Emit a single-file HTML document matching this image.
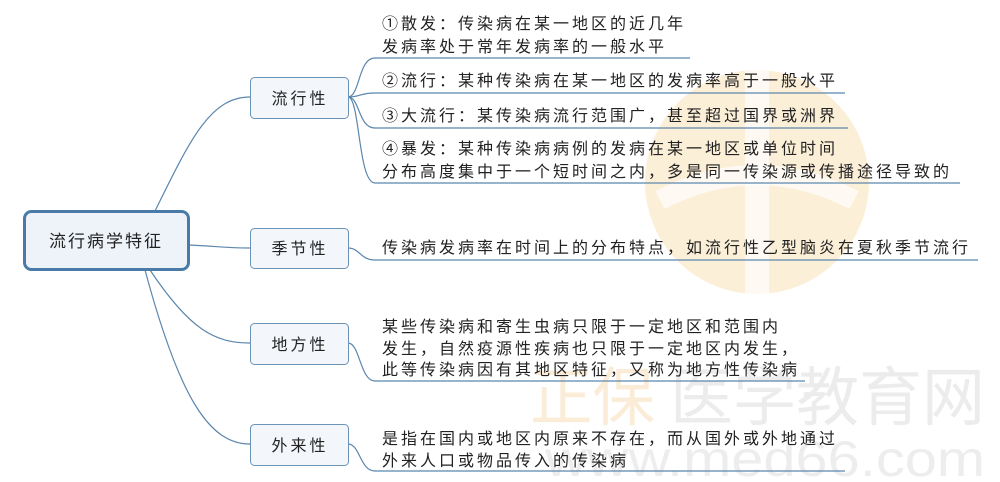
<!DOCTYPE html>
<html><head><meta charset="utf-8"><style>
html,body{margin:0;padding:0;background:#fff}
svg{display:block}
text{font-family:"Liberation Sans","Noto Sans CJK SC",sans-serif;fill:#222;font-size:16px;letter-spacing:3px}
</style></head><body>
<svg width="1000" height="482" viewBox="0 0 1000 482">
<!-- watermark -->
<circle cx="757" cy="182" r="112" fill="#fcefd8"/>
<rect x="745" y="70" width="24" height="224" fill="#fff" opacity="0.7"/>
<path d="M660 200 Q757 150 854 200" stroke="#fff" stroke-width="20" fill="none" opacity="0.7"/>
<text x="530" y="420" textLength="125" lengthAdjust="spacingAndGlyphs" style="font-size:64px;letter-spacing:0;fill:#fbecd8">正保</text>
<text x="670" y="420" textLength="315" lengthAdjust="spacingAndGlyphs" style="font-size:64px;letter-spacing:0;fill:#ececec">医学教育网</text>
<text x="545" y="476" textLength="440" lengthAdjust="spacingAndGlyphs" style="font-size:50px;letter-spacing:0;fill:#ededed">www.med66.com</text>

<g stroke="#5b86ad" stroke-width="1.2" fill="none">
<path d="M155 211 C190 140 210 97 250 97"/>
<path d="M188 245 C215 246 225 248 250 248"/>
<path d="M150 270 C190 330 215 343 250 343"/>
<path d="M145 270 C180 400 210 444 250 444"/>
<path d="M348 97 C360 97 358 58 375 58 L690 58"/>
<path d="M348 97 C360 97 360 93 375 93 L845 93"/>
<path d="M348 97 C360 97 358 128 375 128 L848 128"/>
<path d="M348 97 C360 97 358 183 375 183 L960 183"/>
<path d="M348 248 C360 248 360 260 375 260 L978 260"/>
<path d="M348 343 C360 343 360 381 375 381 L805 381"/>
<path d="M348 444 C360 444 360 471 375 471 L845 471"/>
</g>
<rect x="24.5" y="211.5" width="164" height="58" rx="7" fill="#eef3fa" stroke="#4a7aa8" stroke-width="3"/>
<text x="106" y="247" text-anchor="middle" style="font-size:17px;letter-spacing:2px">流行病学特征</text>
<g fill="#f3f6fb" stroke="#6b93b8" stroke-width="1">
<rect x="250.5" y="77.5" width="98" height="41" rx="4"/>
<rect x="250.5" y="228.5" width="98" height="40" rx="4"/>
<rect x="250.5" y="323.5" width="98" height="41" rx="4"/>
<rect x="250.5" y="424.5" width="98" height="41" rx="4"/>
</g>
<g text-anchor="middle" style="font-size:17px">
<text x="300" y="104">流行性</text>
<text x="300" y="254">季节性</text>
<text x="300" y="350">地方性</text>
<text x="300" y="451">外来性</text>
</g>
<text x="382" y="29">①散发：传染病在某一地区的近几年</text>
<text x="382" y="52">发病率处于常年发病率的一般水平</text>
<text x="382" y="86">②流行：某种传染病在某一地区的发病率高于一般水平</text>
<text x="382" y="121">③大流行：某传染病流行范围广，甚至超过国界或洲界</text>
<text x="382" y="154">④暴发：某种传染病病例的发病在某一地区或单位时间</text>
<text x="382" y="177">分布高度集中于一个短时间之内，多是同一传染源或传播途径导致的</text>
<text x="382" y="253">传染病发病率在时间上的分布特点，如流行性乙型脑炎在夏秋季节流行</text>
<text x="382" y="332">某些传染病和寄生虫病只限于一定地区和范围内</text>
<text x="382" y="354">发生，自然疫源性疾病也只限于一定地区内发生，</text>
<text x="382" y="375">此等传染病因有其地区特征，又称为地方性传染病</text>
<text x="382" y="444">是指在国内或地区内原来不存在，而从国外或外地通过</text>
<text x="382" y="466">外来人口或物品传入的传染病</text>
</svg>
</body></html>
